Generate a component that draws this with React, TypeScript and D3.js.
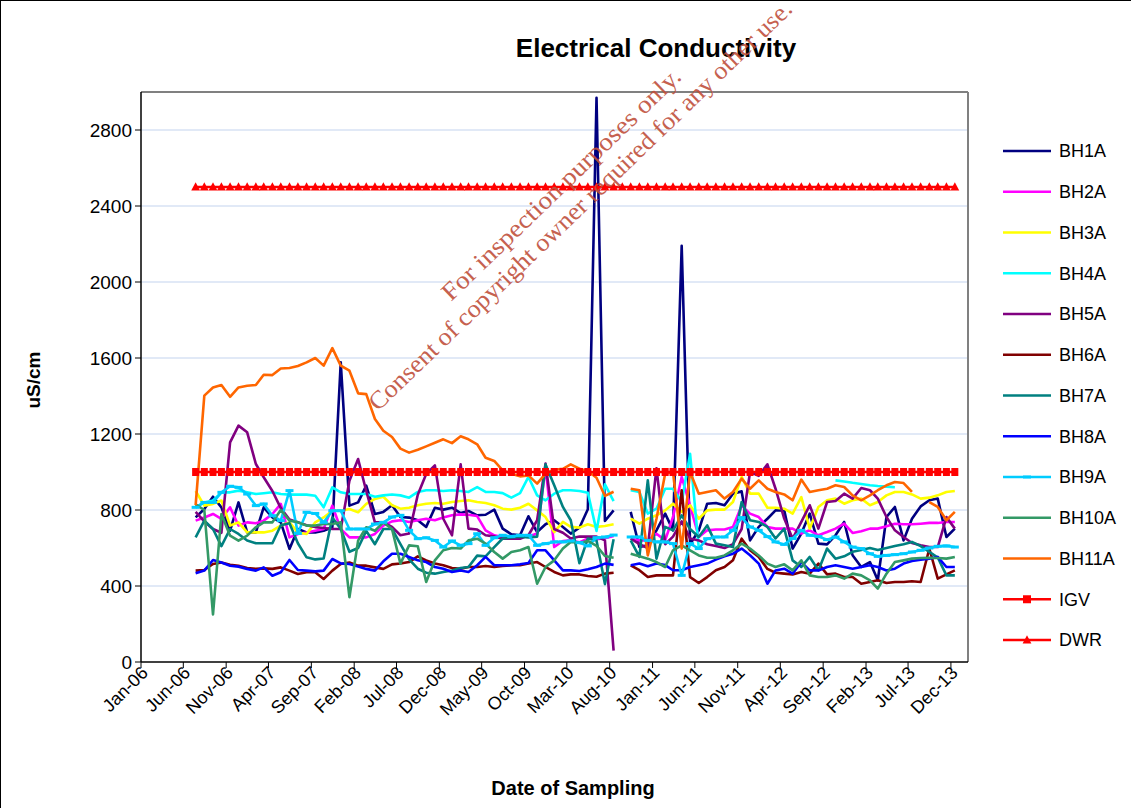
import React from 'react';
import * as d3 from 'd3';

const W = 1131;
const H = 808;
const PLOT = { left: 141, right: 968, top: 92, bottom: 662 };

// monthly sampling dates (mid-month), Jul-2006 .. Dec-2013
const sampleDates: Date[] = d3
  .timeMonth.range(new Date(2006, 6, 1), new Date(2014, 0, 1))
  .map((d) => d3.timeDay.offset(d, 14));

const yTicks = [0, 400, 800, 1200, 1600, 2000, 2400, 2800];
const xTickDates: Date[] = d3.timeMonth.range(new Date(2006, 0, 1), new Date(2014, 0, 2), 5);

const IGV_LIMIT = 1000;
const DWR_LIMIT = 2500;

const BH1A = [761,805,870,814,691,840,682,682,814,761,
735,595,700,682,682,691,709,1577,823,840,
928,779,790,825,763,760,746,711,812,802,
812,784,795,772,775,802,702,672,667,767,
684,725,746,711,676,707,804,2970,742,798,
null,790,605,614,693,781,693,2190,620,693,
833,837,825,886,898,640,711,754,798,798,
597,676,781,623,619,667,737,562,500,526,
430,763,816,640,754,819,851,860,658,702];

const BH2A = [744,761,779,753,814,718,735,730,744,779,
832,656,674,682,691,700,823,700,656,656,
656,674,718,740,746,737,746,754,746,760,
772,777,775,768,693,667,658,654,658,661,
676,1026,605,637,640,630,651,646,651,663,
null,649,640,640,675,640,763,974,823,658,
693,697,697,711,823,781,763,711,702,702,
702,676,693,667,684,702,728,679,688,702,
702,714,728,725,725,728,732,732,737,737];

const BH3A = [900,823,832,850,718,735,682,682,682,691,
718,735,682,674,735,761,796,796,805,788,
832,858,870,825,807,812,825,833,837,833,
842,847,851,842,837,825,807,802,812,833,
798,763,684,737,711,707,725,711,716,725,
null,754,728,754,772,798,833,790,825,754,
798,802,802,842,974,886,886,812,812,807,
781,868,702,816,851,860,833,851,860,825,
842,877,895,895,882,860,865,877,895,900];

const BH4A = [814,840,850,893,893,902,893,884,888,893,
884,881,881,881,875,814,919,893,884,884,
884,870,877,882,877,865,895,904,904,900,
904,900,895,921,895,895,889,865,889,974,
877,851,886,904,904,900,891,690,935,847,
null,904,895,781,807,912,912,842,1096,600,
null,null,null,null,null,null,null,null,null,null,
null,null,null,null,null,956,950,943,937,930,
926,923,920,null,null,null,null,null,null,null];

const BH5A = [790,740,700,680,1156,1244,1209,1042,972,900,
810,750,735,720,710,705,700,700,954,1068,
900,735,735,711,667,676,880,990,1035,754,
667,1040,702,697,667,661,649,649,649,667,
746,1044,700,680,650,660,660,660,640,60,
null,650,620,600,1020,620,660,740,650,640,
620,610,600,620,700,1000,980,1040,912,755,
649,737,825,702,842,847,886,860,916,904,
860,763,693,658,626,614,605,605,763,702];

const BH6A = [481,484,516,524,512,507,495,490,493,490,
498,481,463,472,472,437,481,516,524,507,
507,498,490,514,518,526,556,535,518,509,
495,491,500,500,505,500,505,509,509,518,
526,500,474,456,461,461,453,449,465,470,
null,509,483,447,456,456,456,904,447,416,
447,483,500,535,649,588,553,490,470,465,
461,474,465,518,461,465,447,447,412,421,
430,416,421,421,425,421,596,439,461,482];

const BH7A = [656,744,700,610,700,674,639,625,625,625,
720,730,625,551,540,545,760,700,580,600,
690,620,700,700,620,540,491,470,465,474,
482,495,500,560,556,605,650,655,660,655,
660,1040,930,816,746,520,650,640,410,646,
null,640,553,956,544,711,693,772,700,658,
719,623,614,605,842,746,737,711,650,702,
535,500,553,482,597,544,556,580,590,600,
590,600,610,620,632,610,580,550,456,456];

const BH8A = [467,481,537,524,507,502,490,481,498,454,
472,537,484,481,477,481,542,519,516,502,
490,481,530,570,570,553,535,526,500,491,
474,482,474,509,553,509,509,509,514,521,
588,588,535,482,482,479,488,500,518,511,
null,509,518,504,518,510,483,483,500,509,
518,539,556,570,597,562,518,412,482,491,
465,526,482,482,500,509,500,491,500,509,
500,482,491,518,532,539,544,553,500,500];

const BH9A = [814,840,840,893,925,919,884,823,832,770,
744,902,677,788,782,735,796,796,700,700,
700,726,735,763,772,693,649,654,640,605,
637,614,623,675,614,654,667,661,667,667,
614,623,632,632,637,628,611,654,658,668,
null,658,658,640,632,632,623,456,623,597,
649,658,658,693,760,711,693,660,632,619,
650,693,667,661,644,658,632,605,597,570,
556,561,565,570,579,588,600,609,611,605];

const BH10A = [830,800,250,779,665,639,665,709,735,735,
800,744,735,718,718,726,726,735,341,639,
709,691,735,700,518,614,609,421,535,588,
600,597,640,649,623,579,544,579,588,605,
412,500,535,597,632,628,637,611,558,549,
null,570,556,544,526,500,588,614,588,561,
549,549,561,588,623,597,561,518,500,514,
482,535,456,447,447,456,439,465,456,430,
386,465,526,535,544,547,549,547,544,553];

const BH11A = [826,1402,1445,1458,1396,1445,1454,1458,1512,1510,
1545,1547,1558,1577,1600,1560,1652,1560,1533,1414,
1410,1279,1217,1184,1123,1102,1117,1135,1154,1172,
1152,1188,1172,1146,1075,1058,1009,991,977,982,
939,991,1012,1017,1040,1017,1005,970,874,896,
null,912,904,561,754,991,1000,597,1000,886,
895,904,860,895,965,912,956,912,895,882,
851,960,895,904,912,930,921,877,851,877,
904,930,947,942,895,null,842,816,746,790];

const seriesNames = ['BH1A','BH2A','BH3A','BH4A','BH5A','BH6A','BH7A','BH8A','BH9A','BH10A','BH11A'];
const seriesColors = ['#000080','#FF00FF','#FFFF00','#00FFFF','#800080','#800000','#008080','#0000FF','#00CCFF','#339966','#FF6600'];
const seriesValues = [BH1A, BH2A, BH3A, BH4A, BH5A, BH6A, BH7A, BH8A, BH9A, BH10A, BH11A];

const FONT = 'Arial, "Liberation Sans", Helvetica, sans-serif';

export default function App() {
  const x = d3.scaleTime()
    .domain([new Date(2006, 0, 1), new Date(2014, 0, 31)])
    .range([PLOT.left, PLOT.right]);
  const y = d3.scaleLinear().domain([0, 3000]).range([PLOT.bottom, PLOT.top]);
  const fmt = d3.timeFormat('%b-%y');

  const line = d3.line<number | null>()
    .defined((v) => v != null)
    .x((_, i) => x(sampleDates[i]))
    .y((v) => y(v as number));

  const igvPath = d3.line<Date>().x((d) => x(d)).y(() => y(IGV_LIMIT))(sampleDates) || '';
  const dwrPath = d3.line<Date>().x((d) => x(d)).y(() => y(DWR_LIMIT))(sampleDates) || '';

  const legendItems = [...seriesNames, 'IGV', 'DWR'];
  const legendColors = [...seriesColors, '#FF0000', '#FF0000'];
  const legendY0 = 151;
  const legendStep = 40.75;

  const tri = (cx: number, cy: number, s: number) =>
    `M${cx},${cy - s * 0.6}L${cx + s * 0.55},${cy + s * 0.45}L${cx - s * 0.55},${cy + s * 0.45}Z`;

  return (
    <svg width={W} height={H} style={{ position: 'absolute', left: 0, top: 0, background: '#fff' }}>
      <rect x={0} y={0} width={W} height={H} fill="#fff" />
      <rect x={0.5} y={0.5} width={W + 20} height={H + 20} fill="none" stroke="#000" strokeWidth={1} />

      {/* title */}
      <text x={656} y={57} textAnchor="middle" fontFamily={FONT} fontWeight="bold" fontSize={26}>
        Electrical Conductivity
      </text>

      {/* gridlines */}
      {yTicks.filter((t) => t > 0).map((t) => (
        <line key={'g' + t} x1={PLOT.left} x2={PLOT.right} y1={y(t)} y2={y(t)} stroke="#c3d3ee" strokeWidth={1} />
      ))}

      {/* plot frame top/right */}
      <line x1={PLOT.left} x2={PLOT.right} y1={PLOT.top} y2={PLOT.top} stroke="#808080" strokeWidth={2} />
      <line x1={PLOT.right} x2={PLOT.right} y1={PLOT.top} y2={PLOT.bottom} stroke="#808080" strokeWidth={2} />

      {/* series */}
      {seriesValues.map((vals, si) => (
        <path key={seriesNames[si]} d={line(vals) || ''} fill="none" stroke={seriesColors[si]}
          strokeWidth={2.6} strokeLinejoin="round" />
      ))}
      {/* BH9A dash markers */}
      {BH9A.map((v, i) => v == null ? null : (
        <rect key={'m9' + i} x={x(sampleDates[i]) - 4} y={y(v) - 1.5} width={8} height={3} fill="#00CCFF" />
      ))}

      {/* IGV */}
      <path d={igvPath} fill="none" stroke="#FF0000" strokeWidth={2.5} />
      {sampleDates.map((d, i) => (
        <rect key={'igv' + i} x={x(d) - 3.5} y={y(IGV_LIMIT) - 4} width={7} height={8} fill="#FF0000" />
      ))}
      {/* DWR */}
      <path d={dwrPath} fill="none" stroke="#FF0000" strokeWidth={2.5} />
      {sampleDates.map((d, i) => (
        <path key={'dwr' + i} d={tri(x(d), y(DWR_LIMIT), 8)} fill="#FF0000" />
      ))}

      {/* axes */}
      <line x1={PLOT.left} x2={PLOT.left} y1={PLOT.top} y2={PLOT.bottom} stroke="#000" strokeWidth={1.5} />
      <line x1={PLOT.left} x2={PLOT.right} y1={PLOT.bottom} y2={PLOT.bottom} stroke="#000" strokeWidth={1.5} />
      {yTicks.map((t) => (
        <g key={'yt' + t}>
          <line x1={PLOT.left - 6} x2={PLOT.left} y1={y(t)} y2={y(t)} stroke="#000" strokeWidth={1} />
          <text x={PLOT.left - 9} y={y(t)} dy="0.35em" textAnchor="end" fontFamily={FONT} fontSize={19}>{t}</text>
        </g>
      ))}
      {xTickDates.map((d, i) => (
        <g key={'xt' + i}>
          <line x1={x(d)} x2={x(d)} y1={PLOT.bottom} y2={PLOT.bottom + 6} stroke="#000" strokeWidth={1} />
          <text transform={`translate(${x(d) + 8},${PLOT.bottom + 12}) rotate(-45)`} textAnchor="end"
            fontFamily={FONT} fontSize={18}>{fmt(d)}</text>
        </g>
      ))}

      {/* axis titles */}
      <text transform="translate(40,380) rotate(-90)" textAnchor="middle" fontFamily={FONT} fontWeight="bold" fontSize={19}>uS/cm</text>
      <text x={573} y={795} textAnchor="middle" fontFamily={FONT} fontWeight="bold" fontSize={20}>Date of Sampling</text>

      {/* legend */}
      {legendItems.map((name, i) => {
        const ly = legendY0 + i * legendStep;
        return (
          <g key={'lg' + name}>
            <line x1={1003} x2={1051} y1={ly} y2={ly} stroke={legendColors[i]} strokeWidth={2.6} />
            {name === 'BH9A' && <rect x={1023} y={ly - 1.5} width={8} height={3} fill="#00CCFF" />}
            {name === 'IGV' && <rect x={1023} y={ly - 4} width={8} height={8} fill="#FF0000" />}
            {name === 'DWR' && <path d={tri(1027, ly, 8)} fill="#FF0000" />}
            <text x={1059} y={ly} dy="0.36em" fontFamily={FONT} fontSize={18}>{name}</text>
          </g>
        );
      })}

      {/* watermark */}
      <g fill="#C0503C" fontFamily='"Liberation Serif", "Times New Roman", serif' fontSize={25} opacity={0.9}>
        <text transform="translate(451,302) rotate(-44)" textLength={322} lengthAdjust="spacingAndGlyphs">For inspection purposes only.</text>
        <text transform="translate(378,412) rotate(-44)" textLength={578} lengthAdjust="spacingAndGlyphs">Consent of copyright owner required for any other use.</text>
      </g>
    </svg>
  );
}
